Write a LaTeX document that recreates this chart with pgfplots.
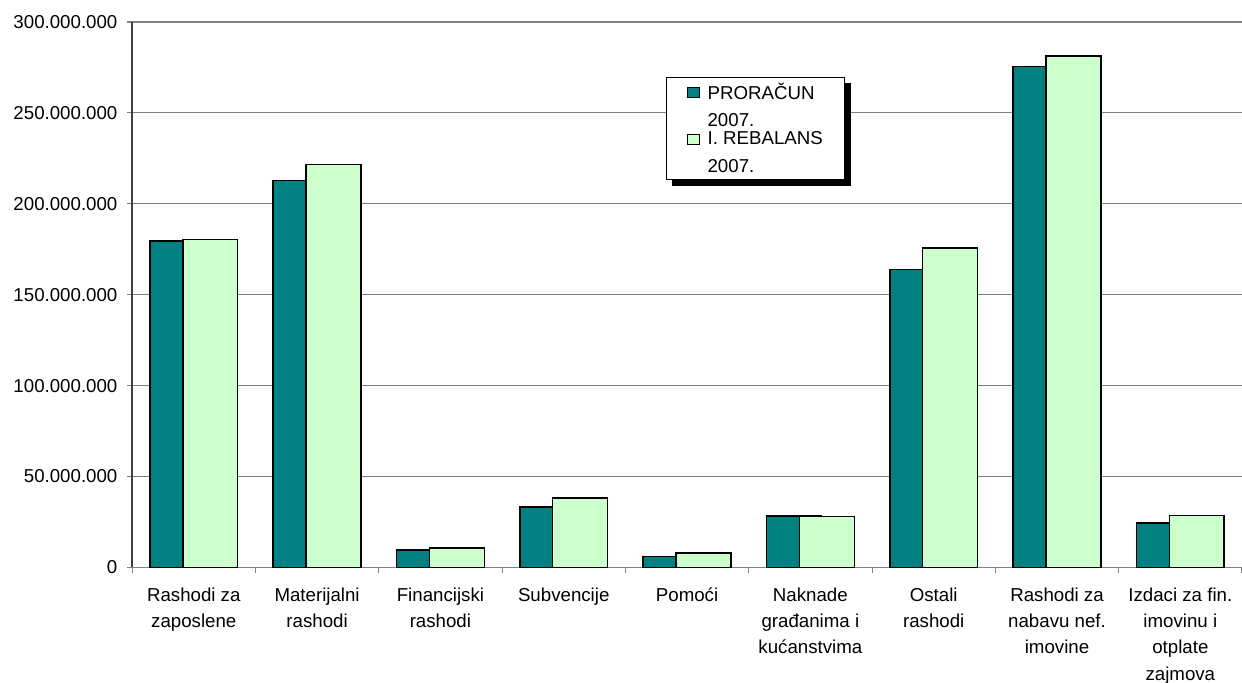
\documentclass[border=0pt]{standalone}
\usepackage{fontspec}
\setmainfont{Liberation Sans}
\usepackage{pgfplots}
\pgfplotsset{compat=1.18}
\definecolor{tealx}{HTML}{008080}
\definecolor{mintx}{HTML}{CCFFCC}

\pgfplotsset{
  boxlegend/.style={legend image code/.code={\draw[##1, line width=0.8pt] (0pt,6pt) rectangle (9.5pt,14pt);}},
}

\begin{document}
\begin{tikzpicture}
\begin{axis}[
  scale only axis,
  width=831.75pt, height=408.75pt,
  xmin=-0.5, xmax=8.5,
  ymin=0, ymax=300000000,
  ytick={0,50000000,100000000,150000000,200000000,250000000,300000000},
  scaled y ticks=false,
  yticklabel style={xshift=-3.5pt, /pgf/number format/.cd, fixed, precision=0, 1000 sep={.}, assume math mode=true},
  ymajorgrids,
  grid style={gray, line width=0.8pt},
  axis lines=left,
  axis line style={-},
  y axis line style={black!75, line width=1pt},
  x axis line style={gray, line width=0.8pt},
  tick align=outside,
  major tick length=4pt,
  minor tick length=4pt,
  ytick style={gray, line width=0.8pt},
  xtick={0,1,2,3,4,5,6,7,8},
  major x tick style={draw=none},
  minor xtick={-0.5,0.5,1.5,2.5,3.5,4.5,5.5,6.5,7.5,8.5},
  minor x tick style={gray, line width=0.8pt},
  xticklabels={{Rashodi za\\zaposlene},{Materijalni\\rashodi},{Financijski\\rashodi},{Subvencije},{Pomoći},{Naknade\\građanima i\\kućanstvima},{Ostali\\rashodi},{Rashodi za\\nabavu nef.\\imovine},{Izdaci za fin.\\imovinu i\\otplate\\zajmova}},
  x tick label style={align=center, anchor=north, yshift=-7.5pt},
  tick label style={font=\fontsize{14}{19.8}\selectfont},
  legend style={name=legbox, at={(0.481,0.899)}, anchor=north west, draw=black, line width=0.8pt, fill=white,
    font=\fontsize{14}{20.7}\selectfont, row sep=0pt, column sep=4.5pt, inner xsep=15pt, inner ysep=3pt,
    nodes={align=left, inner sep=1pt}},
  legend cell align=left,
]
\addplot[ybar, bar width=0.445, bar shift=-0.1333, fill=tealx, draw=black, line width=1.1pt, boxlegend]
  coordinates {(0,179600000) (1,212900000) (2,9600000) (3,33200000) (4,6100000) (5,28200000) (6,164000000) (7,275400000) (8,24400000)};
\addlegendentry{PRORAČUN\\2007.}
\addplot[ybar, bar width=0.445, bar shift=0.1333, fill=mintx, draw=black, line width=1.1pt, boxlegend]
  coordinates {(0,180500000) (1,221500000) (2,10700000) (3,38100000) (4,7900000) (5,28100000) (6,175800000) (7,281300000) (8,28500000)};
\addlegendentry{I. REBALANS\\2007.}
\end{axis}
% legend shadow strips
\fill[black] ([yshift=-4.5pt]legbox.north east) rectangle ([xshift=4.5pt,yshift=-4.5pt]legbox.south east);
\fill[black] ([xshift=4.5pt]legbox.south west) rectangle ([yshift=-4.5pt]legbox.south east);
\pgfresetboundingbox
\path (current axis.south west) ++(-99pt,-86.25pt) coordinate (bbA);
\path (current axis.north east) ++(0pt,16.5pt) coordinate (bbB);
\path[use as bounding box] (bbA) rectangle (bbB);
\end{tikzpicture}
\end{document}
